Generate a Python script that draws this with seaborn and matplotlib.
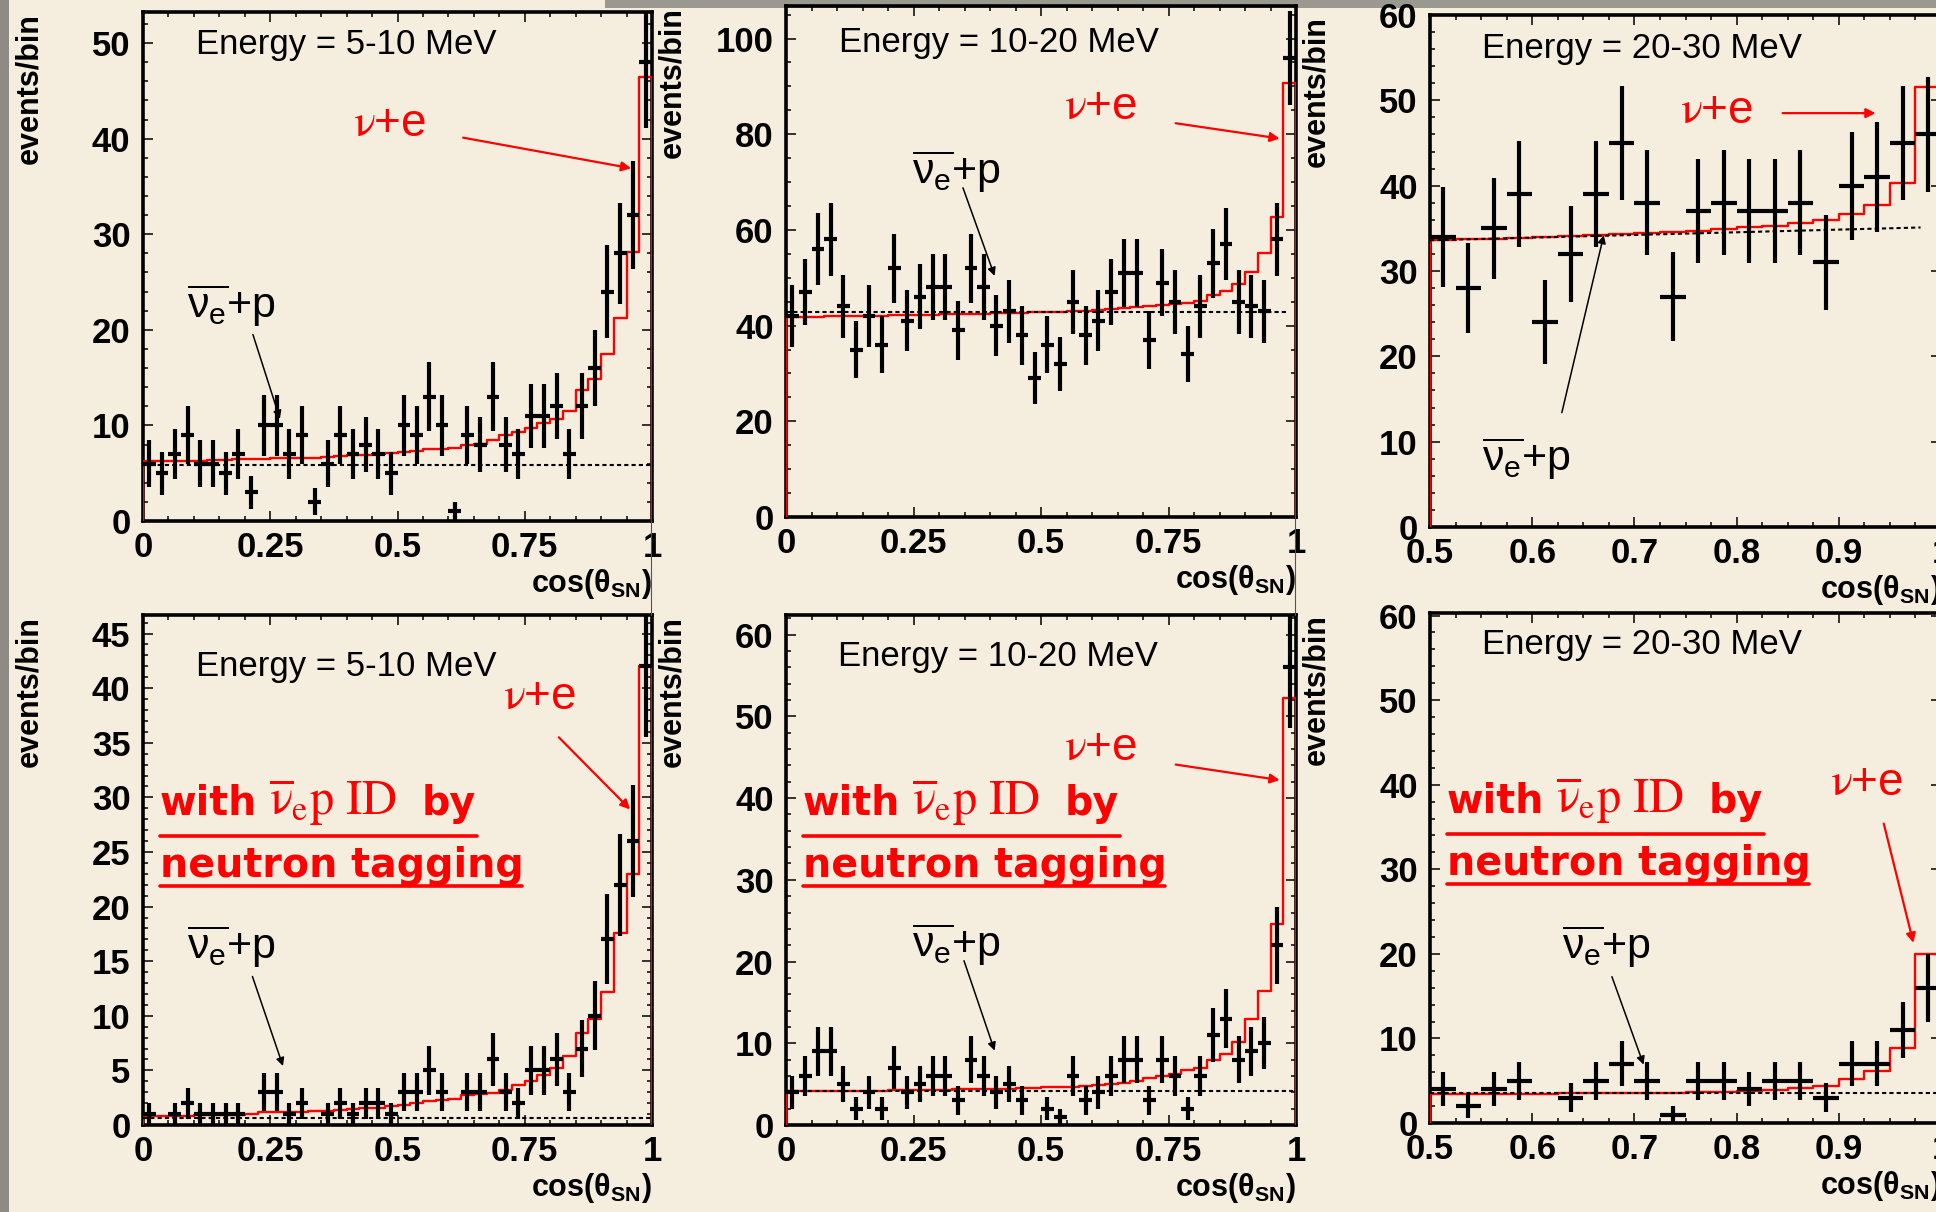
import numpy as np
import pandas as pd
import seaborn as sns
import matplotlib.pyplot as plt
from matplotlib.ticker import MultipleLocator, FuncFormatter
from matplotlib.lines import Line2D
from matplotlib.patches import Rectangle

# ---------------------------------------------------------------- data
# cos(theta_SN) bin edges: 40 bins over [0, 1], 20 bins over [0.5, 1]
edges_full = np.linspace(0.0, 1.0, 41)
edges_half = np.linspace(0.5, 1.0, 21)

# observed events per bin (0 = empty bin, not drawn)
obs_5_10 = [6, 5, 7, 9, 6, 6, 5, 7, 3, 10, 10, 7, 9, 2, 6, 9, 7, 8, 7, 5,
            10, 9, 13, 10, 1, 9, 8, 13, 8, 7, 11, 11, 12, 7, 12, 16, 24, 28, 32, 48]
obs_10_20 = [42, 47, 56, 58, 44, 35, 42, 36, 52, 41, 46, 48, 48, 39, 52, 48, 40, 43, 38, 29,
             36, 32, 45, 38, 41, 47, 51, 51, 37, 49, 45, 34, 44, 53, 57, 45, 44, 43, 58, 96]
obs_20_30 = [34, 28, 35, 39, 24, 32, 39, 45, 38, 27, 37, 38, 37, 37, 38, 31, 40, 41, 45, 46]
obs_5_10_tag = [1, 0, 1, 2, 1, 1, 1, 1, 0, 3, 3, 1, 2, 0, 1, 2, 1, 2, 2, 1,
                3, 3, 5, 3, 0, 3, 3, 6, 3, 2, 5, 5, 6, 3, 7, 10, 17, 22, 26, 42]
obs_10_20_tag = [4, 6, 9, 9, 5, 2, 4, 2, 7, 4, 5, 6, 6, 3, 8, 6, 4, 5, 3, 0,
                 2, 1, 6, 3, 4, 6, 8, 8, 3, 8, 6, 2, 6, 11, 13, 8, 9, 10, 22, 56]
obs_20_30_tag = [4, 2, 4, 5, 0, 3, 5, 7, 5, 1, 5, 5, 4, 5, 5, 3, 7, 7, 11, 16]

# expected events per bin (nu+e plus anti-nu_e+p)
exp_5_10 = [6.25, 6.3, 6.3, 6.3, 6.3, 6.35, 6.4, 6.45, 6.5, 6.5,
            6.55, 6.6, 6.6, 6.6, 6.7, 6.75, 6.9, 6.95, 7.0, 7.1,
            7.25, 7.3, 7.5, 7.55, 7.6, 7.9, 8.1, 8.5, 9.0, 9.3,
            9.7, 10.2, 10.7, 11.5, 13.7, 14.9, 17.5, 21.2, 28.1, 46.5]
exp_10_20 = [41.8, 41.9, 41.9, 42.0, 42.0, 42.0, 42.1, 42.1, 42.2, 42.2,
             42.3, 42.3, 42.4, 42.4, 42.5, 42.5, 42.6, 42.6, 42.7, 42.8,
             42.8, 42.9, 43.0, 43.1, 43.2, 43.4, 43.6, 43.8, 44.0, 44.3,
             44.6, 44.8, 45.2, 46.4, 47.2, 48.8, 51.2, 55.2, 62.8, 90.8]
exp_20_30 = [33.6, 33.7, 33.8, 33.9, 34.0, 34.1, 34.2, 34.3, 34.5, 34.6,
             34.7, 34.9, 35.1, 35.3, 35.6, 36.0, 36.7, 37.7, 40.3, 51.6]
exp_5_10_tag = [0.8, 0.8, 0.85, 0.85, 0.9, 0.9, 0.95, 0.95, 1.0, 1.15,
                1.2, 1.2, 1.2, 1.25, 1.3, 1.35, 1.5, 1.55, 1.6, 1.7,
                1.8, 2.0, 2.2, 2.25, 2.4, 2.75, 2.8, 2.95, 3.25, 3.65,
                4.0, 4.6, 5.2, 6.3, 8.4, 9.75, 12.2, 17.6, 23.0, 42.0]
exp_10_20_tag = [4.1, 4.1, 4.1, 4.15, 4.15, 4.2, 4.2, 4.2, 4.25, 4.25,
                 4.3, 4.3, 4.3, 4.35, 4.35, 4.4, 4.4, 4.45, 4.5, 4.55,
                 4.6, 4.65, 4.7, 4.8, 4.9, 5.0, 5.2, 5.4, 5.7, 6.0,
                 6.3, 6.7, 7.0, 8.0, 8.7, 10.2, 13.0, 16.4, 24.6, 52.2]
exp_20_30_tag = [3.4, 3.4, 3.4, 3.45, 3.45, 3.5, 3.5, 3.5, 3.55, 3.6,
                 3.65, 3.7, 3.8, 3.9, 4.1, 4.4, 5.2, 6.1, 8.9, 20.0]

# anti-nu_e + p component alone (dashed line end points)
bkg_5_10 = ([0.0, 1.0], [5.85, 5.85])
bkg_10_20 = ([0.0, 0.98], [42.8, 42.8])
bkg_20_30 = ([0.5, 0.98], [33.6, 35.1])
bkg_5_10_tag = ([0.0, 1.0], [0.6, 0.6])
bkg_10_20_tag = ([0.0, 1.0], [4.2, 4.2])
bkg_20_30_tag = ([0.5, 1.0], [3.5, 3.5])

energy_labels = ["Energy = 5-10 MeV", "Energy = 10-20 MeV", "Energy = 20-30 MeV"]

# ---------------------------------------------------------------- style
BG = "#f5eedf"
RED = "#ff0000"
W, H = 1936, 1212
SANS = ["Liberation Sans", "DejaVu Sans"]

sns.set_theme(style="ticks")
plt.rcParams.update({
    "font.family": SANS,
    "mathtext.fontset": "custom",
    "mathtext.rm": "Liberation Sans",
    "mathtext.bf": "Liberation Sans:bold",
    "mathtext.it": "Liberation Sans:italic",
    "text.color": "black",
    "axes.labelcolor": "black",
    "figure.facecolor": BG,
    "savefig.facecolor": BG,
    "axes.facecolor": "none",
    "axes.edgecolor": "black",
    "axes.linewidth": 2.4,
    "axes.grid": False,
    "xtick.color": "black",
    "ytick.color": "black",
    "xtick.labelcolor": "black",
    "ytick.labelcolor": "black",
})

fig = plt.figure(figsize=(W / 100, H / 100), dpi=100)


def add_axes_px(left, top, width, height):
    return fig.add_axes([left / W, 1 - (top + height) / H, width / W, height / H])


def draw_panel(ax, edges, obs, exp, bkg, ylim, ymaj, ymin):
    edges = np.asarray(edges)
    centers = 0.5 * (edges[:-1] + edges[1:])
    half = 0.5 * (edges[1] - edges[0])
    df = pd.DataFrame({"cos": centers, "expected": exp})
    # expected spectrum as a step histogram
    sns.histplot(data=df, x="cos", weights="expected", bins=list(edges), element="step",
                 fill=False, color=RED, linewidth=1.7, ax=ax, zorder=3)
    ax.vlines([edges[0], edges[-1]], 0, [exp[0], exp[-1]], color=RED, lw=1.7, zorder=3)
    # anti-nu_e + p contribution
    ax.plot(bkg[0], bkg[1], color="black", lw=1.5, ls=(0, (2.0, 1.5)), zorder=3.5)
    # observed data with Poisson errors; empty bins are skipped
    obs = np.asarray(obs, float)
    m = obs > 0
    ax.errorbar(centers[m], obs[m], yerr=np.sqrt(obs[m]), xerr=half, fmt="none",
                ecolor="black", elinewidth=3.0, capsize=0, zorder=4)

    ax.set_xlim(edges[0], edges[-1])
    ax.set_ylim(*ylim)
    ax.set_xlabel("")
    ax.set_ylabel("")
    if edges[0] == 0.0:
        ax.xaxis.set_major_locator(MultipleLocator(0.25))
        ax.xaxis.set_minor_locator(MultipleLocator(0.05))
    else:
        ax.xaxis.set_major_locator(MultipleLocator(0.1))
        ax.xaxis.set_minor_locator(MultipleLocator(0.025))
    ax.yaxis.set_major_locator(MultipleLocator(ymaj))
    ax.yaxis.set_minor_locator(MultipleLocator(ymin))
    ax.xaxis.set_major_formatter(FuncFormatter(lambda v, p: f"{v:g}"))
    ax.yaxis.set_major_formatter(FuncFormatter(lambda v, p: f"{v:g}"))
    ax.tick_params(which="both", direction="in", top=True, right=True, width=1.1, color="black")
    ax.tick_params(which="major", length=7)
    ax.tick_params(which="minor", length=3.5)
    ax.tick_params(axis="x", which="major", pad=7, labelsize=25)
    ax.tick_params(axis="y", which="major", pad=9, labelsize=25)
    for lab in ax.get_xticklabels() + ax.get_yticklabels():
        lab.set_fontweight("bold")
    for s in ax.spines.values():
        s.set_linewidth(2.6)
        s.set_zorder(2.5)
    ax.patch.set_alpha(0)

    ax.text(-0.223, 0.997, "events/bin", rotation=90, ha="center", va="top",
            transform=ax.transAxes, fontsize=22, fontweight="bold")
    ax.text(1.0, -0.139, r"cos(θ$_\mathbf{SN}$)", ha="right", va="baseline",
            transform=ax.transAxes, fontsize=22, fontweight="bold", clip_on=False)


def label_nu_e(ax, txt_xy, tail, tip):
    ax.text(*txt_xy, r"$\mathrm{ν}$+e", color=RED, fontsize=33, va="baseline", ha="left",
            math_fontfamily="stix")
    ax.annotate("", xy=tip, xytext=tail,
                arrowprops=dict(arrowstyle="-|>", color=RED, lw=1.6,
                                mutation_scale=14, shrinkA=0, shrinkB=0))


def label_ibd(ax, txt_xy, tail, tip):
    ax.text(*txt_xy, r"$\overline{\mathregular{ν_e}}$+p", color="black", fontsize=31,
            va="baseline", ha="left")
    ax.annotate("", xy=tip, xytext=tail,
                arrowprops=dict(arrowstyle="-|>", color="black", lw=1.1,
                                mutation_scale=12, shrinkA=0, shrinkB=0))


def tagging_note(ax, w_px, h_px):
    def fx(dx):
        return dx / w_px

    def fy(dy):
        return 1 - dy / h_px

    bold = dict(color=RED, fontsize=28.5, fontweight="bold", va="baseline",
                transform=ax.transAxes, family=["DejaVu Sans"])
    ax.text(fx(17), fy(200), "with", **bold)
    ax.text(fx(126), fy(200), r"$\overline{\mathrm{ν}}_{\mathrm{e}}\mathrm{p\ ID}$", color=RED,
            fontsize=35, va="baseline", transform=ax.transAxes, math_fontfamily="stix")
    ax.text(fx(279), fy(200), "by", **bold)
    ax.text(fx(17), fy(262), "neutron tagging", **bold)
    ax.add_line(Line2D([fx(17), fx(334)], [fy(221), fy(221)], color=RED, lw=2.6,
                       transform=ax.transAxes))
    ax.add_line(Line2D([fx(17), fx(379)], [fy(271), fy(271)], color=RED, lw=2.6,
                       transform=ax.transAxes))


# ---------------------------------------------------------------- panels
ax1 = add_axes_px(143, 11.5, 509, 509.5)
draw_panel(ax1, edges_full, obs_5_10, exp_5_10, bkg_5_10, (0, 53.3), 10, 2)
ax1.text(0.104, 48.9, energy_labels[0], fontsize=25, va="baseline")
label_nu_e(ax1, (0.413, 40.3), (0.629, 40.1), (0.959, 36.9))
label_ibd(ax1, (0.087, 21.2), (0.216, 19.5), (0.269, 10.7))

ax2 = add_axes_px(786, 6, 510, 511)
draw_panel(ax2, edges_full, obs_10_20, exp_10_20, bkg_10_20, (0, 106.8), 20, 5)
ax2.text(0.104, 97.1, energy_labels[1], fontsize=25, va="baseline")
label_nu_e(ax2, (0.545, 83.2), (0.764, 82.3), (0.968, 79.1))
label_ibd(ax2, (0.248, 69.6), (0.347, 68.8), (0.409, 50.4))

ax3 = add_axes_px(1430, 15, 511, 512)
draw_panel(ax3, edges_half, obs_20_30, exp_20_30, bkg_20_30, (0, 60), 10, 2)
ax3.text(0.551, 55.0, energy_labels[2], fontsize=25, va="baseline")
label_nu_e(ax3, (0.745, 47.4), (0.845, 48.5), (0.936, 48.5))
label_ibd(ax3, (0.551, 6.6), (0.629, 13.4), (0.670, 34.2))

ax4 = add_axes_px(143, 615, 509, 510)
draw_panel(ax4, edges_full, obs_5_10_tag, exp_5_10_tag, bkg_5_10_tag, (0, 46.7), 5, 1)
ax4.text(0.104, 41.1, energy_labels[0], fontsize=25, va="baseline")
label_nu_e(ax4, (0.707, 38.1), (0.817, 35.5), (0.957, 28.9))
label_ibd(ax4, (0.087, 15.2), (0.215, 13.6), (0.275, 5.4))
tagging_note(ax4, 509, 510)

ax5 = add_axes_px(786, 615, 510, 510)
draw_panel(ax5, edges_full, obs_10_20_tag, exp_10_20_tag, bkg_10_20_tag, (0, 62.4), 10, 2)
ax5.text(0.101, 56.2, energy_labels[1], fontsize=25, va="baseline")
label_nu_e(ax5, (0.545, 44.6), (0.764, 44.1), (0.968, 42.2))
label_ibd(ax5, (0.248, 20.6), (0.349, 20.1), (0.409, 9.1))
tagging_note(ax5, 510, 510)

ax6 = add_axes_px(1430, 613, 511, 510)
draw_panel(ax6, edges_half, obs_20_30_tag, exp_20_30_tag, bkg_20_30_tag, (0, 60.3), 10, 2)
ax6.text(0.551, 55.4, energy_labels[2], fontsize=25, va="baseline")
label_nu_e(ax6, (0.891, 38.8), (0.944, 35.4), (0.973, 21.3))
label_ibd(ax6, (0.629, 19.4), (0.678, 17.3), (0.709, 6.9))
tagging_note(ax6, 511, 510)

# ---------------------------------------------------------------- page edges
fig.add_artist(Rectangle((0, 0), 9 / W, 1, transform=fig.transFigure,
                         facecolor="#8e8a84", edgecolor="none", zorder=0))
fig.add_artist(Rectangle((605 / W, 1 - 8 / H), 1 - 605 / W, 8 / H, transform=fig.transFigure,
                         facecolor="#9b9791", edgecolor="none", zorder=0))
for x_px, y0_px, y1_px in [(651, 521, 615), (1295, 517, 615)]:
    fig.add_artist(Line2D([x_px / W, x_px / W], [1 - y0_px / H, 1 - y1_px / H],
                          transform=fig.transFigure, color="#555555", lw=0.8))

fig.savefig("out.png", dpi=100)
